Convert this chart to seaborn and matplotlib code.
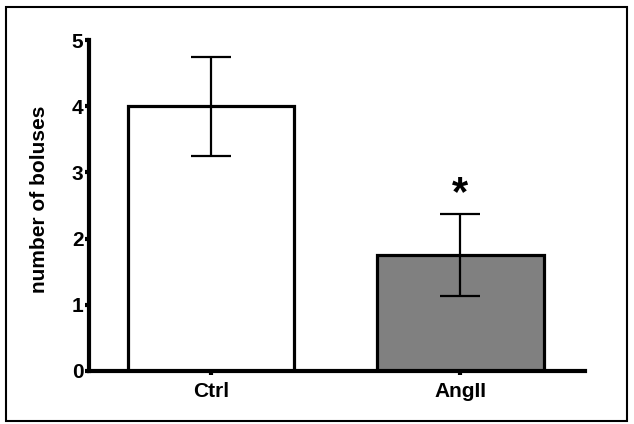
import numpy as np
import pandas as pd
import matplotlib
matplotlib.use('Agg')
import matplotlib.pyplot as plt
import seaborn as sns
from matplotlib.patches import Rectangle

groups = ['Ctrl', 'AngII']
means = [4.0, 1.75]
sems = [0.75, 0.62]
bar_colors = ['#ffffff', '#808080']
star_y = 2.37

sns.set_style('ticks')
plt.rcParams['font.family'] = ['Liberation Sans', 'DejaVu Sans']
plt.rcParams['font.weight'] = 'bold'
plt.rcParams['text.color'] = 'black'
plt.rcParams['axes.labelcolor'] = 'black'
plt.rcParams['xtick.color'] = 'black'
plt.rcParams['ytick.color'] = 'black'
plt.rcParams['axes.edgecolor'] = 'black'

df = pd.DataFrame({'group': groups, 'mean': means, 'sem': sems})

fig = plt.figure(figsize=(6.34, 4.24), dpi=100)
ax = fig.add_axes([89/634, 1 - 371/424, (585 - 89)/634, (371 - 40)/424])

sns.barplot(data=df, x='group', y='mean', hue='group', palette=bar_colors,
            order=groups, width=0.667, edgecolor='black', linewidth=2.3,
            errorbar=None, legend=False, ax=ax)
ax.errorbar(np.arange(len(groups)), df['mean'], yerr=df['sem'], fmt='none',
            ecolor='black', elinewidth=1.6, capsize=14.4, capthick=1.6, zorder=5)

# significance mark
ax.text(1, star_y, '*', ha='center', va='bottom', fontsize=30, fontweight='bold')

ax.set_xlim(-0.49, 1.5)
ax.set_ylim(0, 5)
ax.set_yticks([0, 1, 2, 3, 4, 5])
ax.set_xlabel('')
ax.set_ylabel('number of boluses', fontsize=15, fontweight='bold')
ax.yaxis.set_label_coords(-0.08, 0.52)
sns.despine(ax=ax)
for s in ['left', 'bottom']:
    ax.spines[s].set_linewidth(3)
ax.tick_params(axis='y', length=3, width=3, labelsize=15, pad=1)
ax.tick_params(axis='x', length=3, width=3, labelsize=15, pad=5)
for lab in ax.get_xticklabels() + ax.get_yticklabels():
    lab.set_fontweight('bold')

fig.patches.append(Rectangle((6/634, 1 - 421/424), (627 - 6)/634, (421 - 7)/424,
                             transform=fig.transFigure, fill=False,
                             edgecolor='black', linewidth=1.5))

fig.savefig('out.png', dpi=100)
